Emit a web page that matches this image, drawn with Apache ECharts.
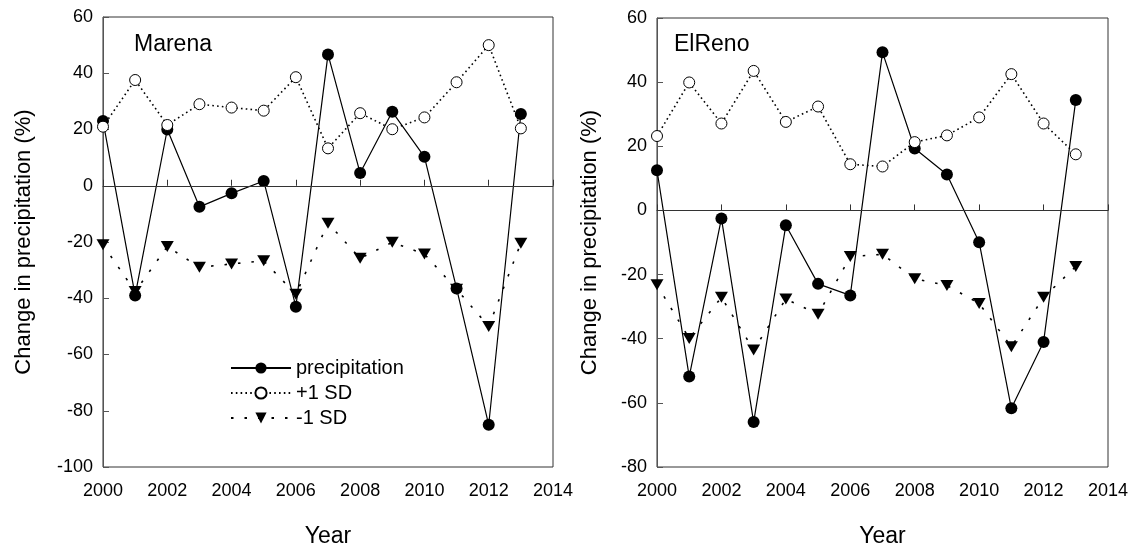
<!DOCTYPE html>
<html>
<head>
<meta charset="utf-8">
<script src="https://cdn.jsdelivr.net/npm/echarts@6/dist/echarts.min.js"></script>
<style>
  html, body { margin: 0; padding: 0; background: #fff; }
  #chart { width: 1140px; height: 550px; }
</style>
</head>
<body>
<div id="chart"></div>
<script>
// years shared by both panels
var years = [2000, 2001, 2002, 2003, 2004, 2005, 2006, 2007, 2008, 2009, 2010, 2011, 2012, 2013];

// Marena
var marenaPrecip = [23, -39, 20, -7.5, -2.7, 1.7, -43, 46.7, 4.5, 26.3, 10.3, -36.5, -85, 25.5];
var marenaPlusSD = [21, 37.6, 21.6, 29, 27.8, 26.7, 38.6, 13.3, 25.8, 20.1, 24.3, 36.8, 50, 20.4];
var marenaMinusSD = [-21, -37.6, -21.6, -29, -27.8, -26.7, -38.6, -13.3, -25.8, -20.1, -24.3, -36.8, -50, -20.4];

// ElReno
var elrenoPrecip = [12.5, -51.8, -2.5, -66, -4.6, -22.9, -26.5, 49.3, 19.3, 11.2, -9.9, -61.7, -41, 34.4];
var elrenoPlusSD = [23.2, 39.9, 27.1, 43.5, 27.6, 32.4, 14.4, 13.7, 21.3, 23.4, 29, 42.5, 27.1, 17.5];
var elrenoMinusSD = [-23.2, -39.9, -27.1, -43.5, -27.6, -32.4, -14.4, -13.7, -21.3, -23.4, -29, -42.5, -27.1, -17.5];

var legendNames = ["precipitation", "+1 SD", "-1 SD"];

function pairs(vals) {
  return years.map(function (y, i) { return [y, vals[i]]; });
}

var font = "Liberation Sans, Arial, sans-serif";

function xAxisFor(idx) {
  return {
    type: "value",
    gridIndex: idx,
    min: 2000,
    max: 2014,
    interval: 2,
    name: "Year",
    nameLocation: "middle",
    nameGap: 58,
    nameTextStyle: { color: "#000", fontSize: 23, fontFamily: font },
    axisLine: { lineStyle: { color: "#333", width: 1 } },
    axisTick: { inside: true, length: 6, lineStyle: { color: "#333" } },
    axisLabel: {
      color: "#000", fontSize: 18, fontFamily: font, margin: 15,
      formatter: function (v) { return String(v); },
    },
    splitLine: { show: false },
  };
}

function yAxisFor(idx, min, gap) {
  return {
    type: "value",
    gridIndex: idx,
    min: min,
    max: 60,
    interval: 20,
    name: "Change in precipitation (%)",
    nameLocation: "middle",
    nameGap: gap,
    nameTextStyle: { color: "#000", fontSize: 22, fontFamily: font },
    axisLine: { show: true, lineStyle: { color: "#555", width: 1 } },
    axisTick: { inside: true, length: 6, lineStyle: { color: "#555" } },
    axisLabel: { color: "#000", fontSize: 18, fontFamily: font, margin: 10 },
    splitLine: { show: false },
  };
}

function panelSeries(idx, precip, plus, minus) {
  return [
    {
      name: legendNames[0],
      type: "line",
      xAxisIndex: idx,
      yAxisIndex: idx,
      data: pairs(precip),
      symbol: "circle",
      symbolSize: 12,
      itemStyle: { color: "#000" },
      lineStyle: { color: "#000", width: 1.2 },
      markLine: {
        symbol: "none",
        silent: true,
        label: { show: false },
        lineStyle: { color: "#333", width: 1, type: "solid" },
        data: [{ yAxis: 0 }],
      },
    },
    {
      name: legendNames[1],
      type: "line",
      xAxisIndex: idx,
      yAxisIndex: idx,
      data: pairs(plus),
      symbol: "circle",
      symbolSize: 11,
      itemStyle: { color: "#fff", borderColor: "#000", borderWidth: 1 },
      lineStyle: { color: "#000", width: 1.6, type: [1.6, 3.2] },
    },
    {
      name: legendNames[2],
      type: "line",
      xAxisIndex: idx,
      yAxisIndex: idx,
      data: pairs(minus),
      symbol: "triangle",
      symbolRotate: 180,
      symbolSize: [13, 11],
      itemStyle: { color: "#000" },
      lineStyle: { color: "#000", width: 1.6, type: [2.5, 11] },
    },
  ];
}

var chart = echarts.init(document.getElementById("chart"));
var option = {
  backgroundColor: "#fff",
  animation: false,
  title: [
    { text: "Marena", left: 129, top: 28, textStyle: { color: "#000", fontSize: 23, fontWeight: "normal", fontFamily: font } },
    { text: "ElReno", left: 669, top: 28, textStyle: { color: "#000", fontSize: 23, fontWeight: "normal", fontFamily: font } },
  ],
  legend: {
    data: legendNames,
    orient: "vertical",
    left: 225,
    top: 353,
    itemWidth: 60,
    itemHeight: 14,
    itemGap: 5,
    textStyle: { color: "#000", fontSize: 20, fontFamily: font },
  },
  grid: [
    { left: 103, top: 17, width: 450, height: 450, show: true, borderColor: "#333", borderWidth: 1, outerBoundsMode: "none" },
    { left: 657, top: 18, width: 451, height: 449, show: true, borderColor: "#333", borderWidth: 1, outerBoundsMode: "none" },
  ],
  xAxis: [xAxisFor(0), xAxisFor(1)],
  yAxis: [yAxisFor(0, -100, 68), yAxisFor(1, -80, 56)],
  series: panelSeries(0, marenaPrecip, marenaPlusSD, marenaMinusSD)
    .concat(panelSeries(1, elrenoPrecip, elrenoPlusSD, elrenoMinusSD)),
};
chart.setOption(option);
</script>
</body>
</html>
